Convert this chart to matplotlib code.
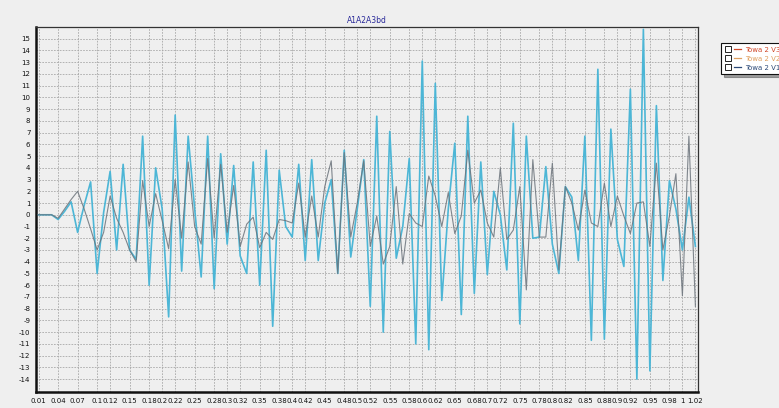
import matplotlib

matplotlib.use("Agg")
import matplotlib.pyplot as plt
from matplotlib.legend_handler import HandlerTuple
from matplotlib.lines import Line2D

plt.rcParams["axes.unicode_minus"] = False

# sample positions 0.01 .. 1.02
x_vals = [round(0.01 * (i + 1), 2) for i in range(102)]

towa_v2 = [  # light blue, large swings
    0, 0, 0, -0.4, 0.3, 1.1, -1.5, 0.8, 2.8, -5,
    0.2, 3.7, -3, 4.3, -3, -3.8, 6.7, -6, 4.0, 0.5,
    -8.7, 8.5, -4.8, 6.7, 0.5, -5.3, 6.7, -6.3, 5.2, -2.5,
    4.2, -3.5, -5, 4.5, -6, 5.5, -9.5, 3.8, -1.0, -1.9,
    4.3, -3.9, 4.7, -3.9, 1.0, 3.0, -5, 5.5, -3.6, 0.5,
    4.7, -7.8, 8.4, -10, 7.1, -3.7, -1, 4.8, -11, 13.1,
    -11.5, 11.2, -7.3, 0.5, 6.1, -8.5, 8.4, -6.7, 4.5, -5.1,
    2, 0, -4.7, 7.8, -9.3, 6.7, -2, -1.9, 4.1, -2.5,
    -5, 2.4, 1.5, -3.9, 6.7, -10.7, 12.4, -10.6, 7.3, -2.1,
    -4.4, 10.7, -14, 15.8, -13.3, 9.3, -5.6, 2.9, 0.5, -3,
    1.5, -2.7,
]
towa_v1 = [  # grey, smaller swings
    0, 0, 0, -0.3, 0.5, 1.3, 2.0, 0.5, -1.2, -3.0,
    -1.5, 1.6, -0.3, -1.5, -3.0, -4.0, 2.9, -1.0, 1.8, -0.5,
    -2.9, 3.0, -2.0, 4.5, -1.0, -2.5, 4.8, -2.0, 4.3, -1.5,
    2.5, -2.7, -0.8, -0.2, -2.8, -1.5, -2.1, -0.4, -0.5, -0.7,
    2.7, -1.9, 1.6, -1.9, 2.4, 4.6, -5.0, 5.3, -1.9, 1.0,
    4.6, -2.7, -0.1, -4.2, -2.7, 2.4, -4.2, 0.1, -0.7, -1.0,
    3.3, 1.6, -1.0, 1.9, -1.6, -0.1, 5.5, 1.0, 2.1, -0.7,
    -1.9, 4.0, -2.1, -1.3, 2.4, -6.4, 4.7, -1.9, -1.9, 4.4,
    -4.7, 2.4, 1.0, -1.3, 2.1, -0.7, -1.0, 2.7, -1.0, 1.6,
    -0.1, -1.6, 1.0, 1.1, -2.7, 4.4, -3.0, -0.1, 3.5, -6.9,
    6.7, -7.8,
]

x_ticklabels = [
    "0.01", "0.04", "0.07", "0.1", "0.12", "0.15", "0.18", "0.2", "0.22",
    "0.25", "0.28", "0.3", "0.32", "0.35", "0.38", "0.4", "0.42", "0.45",
    "0.48", "0.5", "0.52", "0.55", "0.58", "0.6", "0.62", "0.65", "0.68",
    "0.7", "0.72", "0.75", "0.78", "0.8", "0.82", "0.85", "0.88", "0.9",
    "0.92", "0.95", "0.98", "1", "1.02",
]
y_ticks = list(range(-14, 16))

legend_labels = ["Towa 2 V3", "Towa 2 V2", "Towa 2 V1"]
legend_colors = ["#d0482a", "#e0a060", "#2c4a78"]

BG = "#efefef"

fig = plt.figure(figsize=(7.79, 4.08), dpi=100, facecolor=BG)
ax = fig.add_axes([36 / 779, 1 - 392 / 408, (698 - 36) / 779, (392 - 27) / 408])
ax.set_facecolor(BG)

ax.plot(x_vals, towa_v2, color="#4cb6d6", lw=1.2, zorder=3)
ax.plot(x_vals, towa_v1, color="#6b737b", lw=0.8, alpha=0.85, zorder=4)

ax.set_xlim(0.006, 1.024)
ax.set_ylim(-15.1, 16.0)
ax.set_xticks([float(t) for t in x_ticklabels])
ax.set_xticklabels(x_ticklabels)
ax.set_yticks(y_ticks)
ax.set_yticklabels([str(v) for v in y_ticks])
ax.tick_params(axis="both", labelsize=5, length=0, pad=4, colors="#111111")

ax.grid(True, color="#a8a8a8", linestyle=(0, (2, 1.5)), linewidth=0.6, zorder=0)
ax.set_axisbelow(True)

for side in ("left", "bottom"):
    ax.spines[side].set_linewidth(1.8)
    ax.spines[side].set_color("#111111")
for side in ("top", "right"):
    ax.spines[side].set_linewidth(0.9)
    ax.spines[side].set_color("#333333")

ax.set_title("A1A2A3bd", fontsize=5.5, color="#2a2a9a", pad=3)

handles = []
for c in legend_colors:
    box = Line2D([], [], marker="s", markersize=4, markerfacecolor="white",
                 markeredgecolor="#222222", markeredgewidth=0.7, linestyle="none")
    line = Line2D([], [], color=c, lw=0.9)
    handles.append((box, line))
leg = ax.legend(
    handles,
    legend_labels,
    handler_map={tuple: HandlerTuple(ndivide=None, pad=0.4)},
    loc="upper left",
    bbox_to_anchor=(718 / 779, 1 - 40 / 408),
    bbox_transform=fig.transFigure,
    fontsize=5,
    handlelength=2.4,
    handletextpad=0.5,
    labelspacing=0.45,
    borderpad=0.45,
    fancybox=False,
    shadow=True,
    frameon=True,
    labelcolor=legend_colors,
)
leg.get_frame().set_edgecolor("#111111")
leg.get_frame().set_linewidth(0.8)
leg.get_frame().set_facecolor("white")

fig.savefig("out.png", dpi=100, facecolor=BG)
